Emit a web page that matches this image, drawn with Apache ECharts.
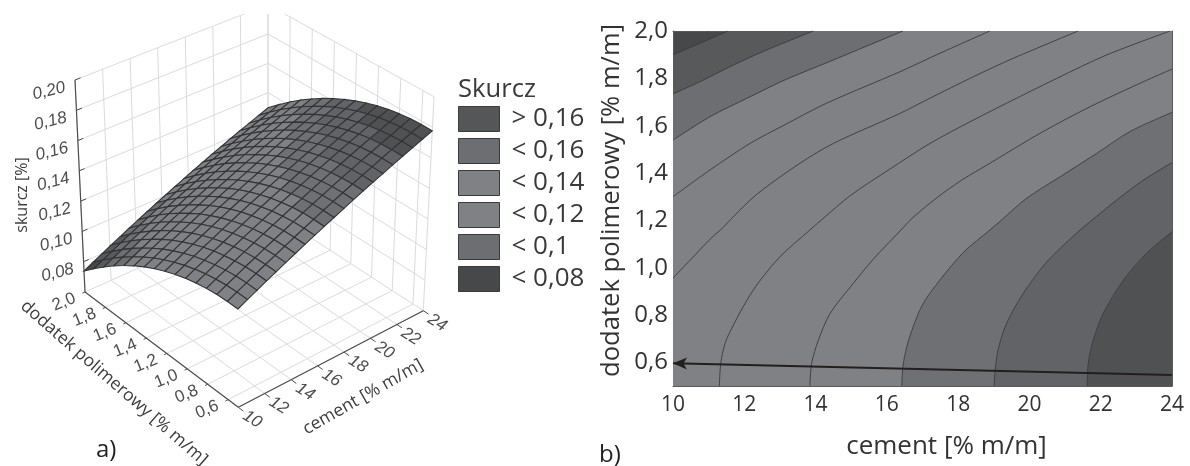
<!DOCTYPE html>
<html>
<head>
<meta charset="utf-8">
<style>html,body{margin:0;padding:0;background:#fff}#c{width:1190px;height:466px}</style>
<script src="https://cdn.jsdelivr.net/npm/echarts@6/dist/echarts.min.js"></script>
</head>
<body>
<div id="c"></div>
<script>
// ---------- tick labels / categories ----------
const cementTicks = [10, 12, 14, 16, 18, 20, 22, 24];
const polymerTicks = [0.6, 0.8, 1.0, 1.2, 1.4, 1.6, 1.8, 2.0];
const skurczTicks = [0.08, 0.10, 0.12, 0.14, 0.16, 0.18, 0.20];
const legendNames = ['> 0,16', '< 0,16', '< 0,14', '< 0,12', '< 0,1', '< 0,08'];
const legendColors = ['#555658', '#6d6e71', '#808184', '#808184', '#6d6e71', '#47484a'];
const cementMinorTicks = [11, 12, 13, 14, 15, 16, 17, 18, 19, 20, 21, 22, 23];
const polymerMinorTicks = [0.6, 0.7, 0.8, 0.9, 1.0, 1.1, 1.2, 1.3, 1.4, 1.5, 1.6, 1.7, 1.8, 1.9];

// ---------- contour plot (b): iso-lines, [cement, polymer] ----------
const contour008 = [[10,1.90],[10.76,1.948],[11.54,2]];
const contour009 = [[10,1.734],[10.76,1.786],[11.69,1.856],[12.63,1.92],[13.94,2]];
const contour010 = [[10,1.539],[11.04,1.638],[12.16,1.722],[13.09,1.79],[14.49,1.877],[16.45,2]];
const contour011 = [[10,1.30],[11.04,1.413],[12.16,1.525],[13.09,1.60],[14.31,1.695],[16.37,1.828],[17.49,1.906],[18.89,2]];
const contour012 = [[10,0.956],[10.62,1.054],[11.04,1.12],[11.37,1.165],[11.69,1.215],[12.35,1.31],[13.56,1.441],[14.5,1.525],[16.37,1.652],[17.21,1.716],[18.43,1.807],[19.55,1.885],[21.37,2]];
const contour013 = [[11.30,0.5],[11.34,0.596],[11.46,0.68],[11.65,0.744],[11.97,0.835],[12.35,0.927],[13.0,1.046],[13.84,1.159],[14.16,1.201],[14.97,1.304],[16.09,1.417],[17.21,1.525],[18.43,1.624],[19.36,1.695],[20.77,1.80],[22.17,1.899],[23.95,2]];
const contour014 = [[13.84,0.5],[13.89,0.596],[14.08,0.694],[14.41,0.807],[15.06,0.934],[15.62,1.036],[16.37,1.155],[16.74,1.213],[17.40,1.295],[18.10,1.37],[18.89,1.441],[20.30,1.568],[21.70,1.68],[23.10,1.779],[24,1.839]];
const contour015 = [[16.42,0.5],[16.45,0.582],[16.56,0.666],[16.74,0.751],[17.02,0.849],[17.49,0.948],[18.15,1.065],[18.89,1.159],[19.17,1.195],[19.92,1.293],[20.86,1.384],[21.89,1.483],[22.82,1.575],[24,1.656]];
const contour016 = [[19.01,0.5],[19.04,0.568],[19.13,0.659],[19.36,0.765],[19.83,0.892],[20.49,1.025],[21.42,1.159],[21.70,1.194],[22.45,1.286],[23.20,1.37],[24,1.444]];
const contour017 = [[21.62,0.5],[21.65,0.596],[21.79,0.694],[22.07,0.807],[22.64,0.948],[23.29,1.061],[24,1.152]];
const arrowLine = [[10,0.596],[24,0.547]];
// fill of each band, from the top-left corner to the bottom-right corner
const bandColors = ['#47484a','#58595b','#6d6e71','#808184','#808184','#808184','#808184','#808184','#6f7073','#626366','#505153'];

// ---------- surface plot (a): skurcz read per mesh node ----------
const meshCement = [10,10.7,11.4,12.1,12.8,13.5,14.2,14.9,15.6,16.3,17,17.7,18.4,19.1,19.8,20.5,21.2,21.9,22.6,23.3,24];
const meshPolymer = [0.5,0.6,0.7,0.8,0.9,1.0,1.1,1.2,1.3,1.4,1.5,1.6,1.7,1.8,1.9,2.0];
const meshSkurcz = [
[.1238,.1268,.1297,.1327,.1355,.1384,.1412,.1440,.1468,.1495,.1522,.1549,.1576,.1602,.1628,.1653,.1679,.1704,.1728,.1753,.1776],
[.1238,.1268,.1297,.1327,.1355,.1384,.1412,.1440,.1468,.1495,.1523,.1550,.1577,.1603,.1629,.1654,.1680,.1705,.1729,.1754,.1778],
[.1234,.1264,.1293,.1323,.1351,.1380,.1408,.1436,.1464,.1492,.1519,.1546,.1573,.1599,.1625,.1650,.1676,.1701,.1725,.1751,.1775],
[.1224,.1254,.1283,.1313,.1342,.1371,.1399,.1427,.1455,.1483,.1510,.1537,.1564,.1590,.1616,.1642,.1668,.1693,.1717,.1742,.1766],
[.1210,.1240,.1269,.1299,.1328,.1357,.1385,.1413,.1442,.1469,.1496,.1523,.1551,.1577,.1603,.1629,.1655,.1680,.1705,.1730,.1754],
[.1191,.1221,.1250,.1281,.1309,.1338,.1366,.1395,.1423,.1451,.1478,.1505,.1532,.1559,.1585,.1610,.1637,.1662,.1686,.1712,.1736],
[.1167,.1197,.1227,.1257,.1285,.1315,.1343,.1372,.1400,.1427,.1455,.1482,.1509,.1536,.1562,.1587,.1614,.1639,.1664,.1689,.1713],
[.1138,.1168,.1198,.1228,.1257,.1287,.1315,.1344,.1372,.1400,.1427,.1454,.1482,.1508,.1534,.1560,.1587,.1612,.1637,.1662,.1686],
[.1105,.1135,.1165,.1195,.1224,.1254,.1282,.1311,.1339,.1367,.1394,.1421,.1449,.1476,.1502,.1528,.1554,.1580,.1604,.1630,.1654],
[.1067,.1097,.1127,.1157,.1186,.1216,.1245,.1273,.1302,.1330,.1357,.1384,.1412,.1438,.1465,.1491,.1518,.1543,.1568,.1593,.1618],
[.1024,.1054,.1084,.1114,.1143,.1173,.1202,.1230,.1259,.1287,.1314,.1342,.1370,.1396,.1423,.1449,.1476,.1501,.1526,.1551,.1576],
[.0976,.1006,.1036,.1066,.1095,.1126,.1155,.1183,.1212,.1240,.1267,.1295,.1323,.1350,.1376,.1402,.1429,.1455,.1480,.1505,.1530],
[.0924,.0954,.0984,.1014,.1043,.1074,.1103,.1131,.1160,.1188,.1216,.1244,.1272,.1299,.1325,.1351,.1378,.1404,.1429,.1454,.1479],
[.0866,.0896,.0926,.0957,.0986,.1017,.1046,.1075,.1104,.1131,.1159,.1187,.1215,.1242,.1269,.1295,.1322,.1348,.1373,.1398,.1423],
[.0804,.0835,.0865,.0895,.0925,.0955,.0984,.1013,.1042,.1070,.1098,.1126,.1154,.1181,.1208,.1234,.1261,.1287,.1312,.1337,.1362],
[.0738,.0769,.0799,.0830,.0859,.0889,.0918,.0947,.0976,.1004,.1032,.1060,.1088,.1115,.1142,.1168,.1195,.1221,.1246,.1272,.1297]
];

// ---------- helpers ----------
const contours = [contour008, contour009, contour010, contour011, contour012, contour013, contour014, contour015, contour016, contour017];
const comma = v => Number(v).toFixed(v >= 0.05 && v < 0.3 ? 2 : (v < 3 ? 1 : 0)).replace('.', ',');
const SANS = '"Open Sans","Noto Sans",sans-serif';
const ARIAL = '"Liberation Sans",Arial,sans-serif';
const lm = echarts.number.linearMap;

// Perspective box of panel a): pixel position of the eight corners.
const box = {
  floor: { a: [85, 292], b: [238.3, 407.3], c: [423.3, 310.7], d: [268, 210] },
  top: { a: [75, 80], b: [237.5, 191.6], c: [434, 96.7], d: [268, 4.7] }
};
function project(cement, polymer, z) {
  const u = lm(cement, [10, 24], [0, 1]);
  const v = lm(polymer, [2, 0.5], [0, 1]);
  const w = lm(z, [0.06, 0.2], [0, 1]);
  const out = [0, 0];
  for (let k = 0; k < 2; k++) {
    const f = box.floor, t = box.top;
    const lo = (1 - u) * ((1 - v) * f.a[k] + v * f.b[k]) + u * ((1 - v) * f.d[k] + v * f.c[k]);
    const hi = (1 - u) * ((1 - v) * t.a[k] + v * t.b[k]) + u * ((1 - v) * t.d[k] + v * t.c[k]);
    out[k] = (1 - w) * lo + w * hi;
  }
  return out;
}
const GRIDC = '#dadbdc', AXISC = '#4d4e50', LABELC = '#4d4e50';
function seg(a, b, color, width) {
  return { type: 'line', silent: true, shape: { x1: a[0], y1: a[1], x2: b[0], y2: b[1] }, style: { stroke: color, lineWidth: width, fill: null } };
}
function txt(s, x, y, deg, size, family, italic, color) {
  return { type: 'text', silent: true, x, y, rotation: deg * Math.PI / 180,
    style: { text: s, fontSize: size, fontFamily: family, fontStyle: italic ? 'italic' : 'normal', fill: color, align: 'center', verticalAlign: 'middle' } };
}
function renderFrame() {
  const grid = [], axes = [];
  const zMin = 0.06, zMax = 0.2;
  const polyAll = [2, ...polymerTicks.slice().reverse().slice(1), 0.5];
  // walls and floor
  cementTicks.forEach(c => {
    grid.push(seg(project(c, 2, zMin), project(c, 2, zMax), GRIDC, 1));
    grid.push(seg(project(c, 2, zMin), project(c, 0.5, zMin), GRIDC, 1));
  });
  polyAll.forEach(p => {
    grid.push(seg(project(24, p, zMin), project(24, p, zMax), GRIDC, 1));
    grid.push(seg(project(10, p, zMin), project(24, p, zMin), GRIDC, 1));
  });
  skurczTicks.forEach(z => {
    grid.push(seg(project(10, 2, z), project(24, 2, z), GRIDC, 1));
    grid.push(seg(project(24, 2, z), project(24, 0.5, z), GRIDC, 1));
  });
  // axis lines and ticks
  axes.push(seg(project(10, 2, zMin), project(10, 2, zMax), AXISC, 1.2));
  axes.push(seg(project(10, 2, zMin), project(10, 0.5, zMin), AXISC, 1.2));
  axes.push(seg(project(10, 0.5, zMin), project(24, 0.5, zMin), AXISC, 1.2));
  skurczTicks.forEach(z => axes.push(seg(project(10, 2, z), project(10.4, 2, z), AXISC, 1)));
  polymerTicks.forEach(p => axes.push(seg(project(10, p, zMin), project(9.8, p, zMin), AXISC, 1)));
  cementTicks.forEach(c => axes.push(seg(project(c, 0.5, zMin), project(c, 0.45, zMin), AXISC, 1)));
  // tick labels
  skurczTicks.forEach(z => { const q = project(10, 2, z); axes.push(txt(comma(z), q[0] - 26, q[1] + 11, 14, 17, ARIAL, true, LABELC)); });
  polymerTicks.forEach(p => { const q = project(10, p, zMin); axes.push(txt(comma(p), q[0] - 21, q[1] + 10, 22, 17, ARIAL, false, LABELC)); });
  cementTicks.forEach(c => { const q = project(c, 0.5, zMin); axes.push(txt(comma(c), q[0] + 14, q[1] + 12, -32, 17, ARIAL, true, LABELC)); });
  // axis names
  axes.push(txt('skurcz [%]', 22, 195, 90, 16, SANS, false, '#3c3d3f'));
  axes.push(txt('dodatek polimerowy [% m/m]', 114, 383, -41, 17.5, SANS, false, '#3c3d3f'));
  axes.push(txt('cement [% m/m]', 363, 397, 29.6, 17.5, SANS, false, '#3c3d3f'));
  return { type: 'group', children: [
    { type: 'group', clipPath: { type: 'rect', shape: { x: 0, y: 14, width: 450, height: 452 } }, children: grid },
    { type: 'group', children: axes }
  ] };
}
// mesh cells from back corner (high cement, high polymer) to front corner
const meshCells = [];
for (let ci = meshCement.length - 2; ci >= 0; ci--) {
  for (let pi = meshPolymer.length - 2; pi >= 0; pi--) meshCells.push([ci, pi]);
}
function renderCell(params, api) {
  const ci = api.value(0), pi = api.value(1);
  const nodes = [[ci, pi], [ci + 1, pi], [ci + 1, pi + 1], [ci, pi + 1]];
  let sum = 0;
  const pts = nodes.map(n => { const z = meshSkurcz[n[1]][n[0]]; sum += z; return project(meshCement[n[0]], meshPolymer[n[1]], z); });
  const idx = Math.max(0, Math.min(10, Math.floor((sum / 4 - 0.07) / 0.01)));
  return { type: 'polygon', silent: true, shape: { points: pts }, style: { fill: bandColors[idx], stroke: '#333436', lineWidth: 1.1 } };
}
// bands of the contour plot: each polygon covers everything on the lower-right side of its iso-line
function renderBand(params, api) {
  const k = api.value(2), line = contours[k];
  const pts = line.slice();
  const first = line[0], last = line[line.length - 1];
  if (last[1] >= 2) pts.push([24, 2]);
  pts.push([24, 0.5]);
  if (first[0] <= 10) pts.push([10, 0.5]);
  return { type: 'polygon', silent: true, shape: { points: pts.map(q => api.coord(q)) }, style: { fill: bandColors[k + 1] } };
}

const axisFrame = { lineStyle: { color: '#58595b', width: 1 } };
const series = [
  { type: 'custom', coordinateSystem: 'none', silent: true, data: [[0]], renderItem: renderFrame, z: 1 },
  { type: 'custom', coordinateSystem: 'none', silent: true, data: meshCells, renderItem: renderCell, z: 2 },
  { type: 'custom', xAxisIndex: 0, yAxisIndex: 0, silent: true, clip: true, encode: { x: 0, y: 1 },
    data: contours.map((_, k) => [10, 0.5, k]), renderItem: renderBand, z: 2 }
];
contours.forEach(line => series.push({
  type: 'line', xAxisIndex: 0, yAxisIndex: 0, data: line, showSymbol: false, symbol: 'none', silent: true, z: 3, smooth: 0.3,
  lineStyle: { color: '#3a3b3d', width: 0.9 }
}));
series.push({
  type: 'line', xAxisIndex: 0, yAxisIndex: 0, data: [], silent: true, z: 4,
  markLine: { silent: true, symbol: ['arrow', 'none'], symbolSize: [9, 14], label: { show: false }, animation: false,
    lineStyle: { color: '#231f20', width: 2, type: 'solid' },
    data: [[{ coord: arrowLine[0] }, { coord: arrowLine[1] }]] }
});
legendNames.forEach((n, i) => series.push({
  type: 'custom', name: n, coordinateSystem: 'none', data: [], renderItem: () => null, itemStyle: { color: legendColors[i] }
}));

const option = {
  animation: false,
  backgroundColor: '#fff',
  textStyle: { fontFamily: SANS },
  grid: { left: 673, top: 31, width: 499, height: 355, show: true, backgroundColor: bandColors[0], borderWidth: 0, containLabel: false },
  title: [
    { text: 'Skurcz', left: 458, top: 77, padding: 0, textStyle: { fontFamily: SANS, fontWeight: 'normal', fontSize: 25.6, color: '#3a3a3c' } },
    { text: 'a)', left: 96, top: 438, padding: 0, textStyle: { fontFamily: SANS, fontWeight: 'normal', fontSize: 24, color: '#231f20' } },
    { text: 'b)', left: 599, top: 443, padding: 0, textStyle: { fontFamily: SANS, fontWeight: 'normal', fontSize: 24, color: '#231f20' } }
  ],
  legend: {
    orient: 'vertical', left: 458, top: 106, padding: 0, itemWidth: 41, itemHeight: 25, itemGap: 6, icon: 'rect',
    selectedMode: false, data: legendNames, itemStyle: { borderColor: '#3a3b3d', borderWidth: 1 },
    textStyle: { fontFamily: SANS, fontSize: 26, color: '#3a3a3c', padding: [0, 0, 0, 7] }
  },
  xAxis: [
    { type: 'value', min: 10, max: 24, interval: 2, position: 'bottom', splitLine: { show: false },
      axisLine: axisFrame, axisTick: { inside: true, length: 3, customValues: cementMinorTicks, lineStyle: { color: '#444' } },
      axisLabel: { customValues: cementTicks, fontSize: 21, color: '#333', margin: 9, fontFamily: SANS },
      name: 'cement [% m/m]', nameLocation: 'middle', nameGap: 48, nameTextStyle: { fontSize: 26, color: '#333', fontFamily: SANS, padding: [0, 0, 0, 48] } },
    { type: 'value', min: 10, max: 24, interval: 2, position: 'top', splitLine: { show: false },
      axisLine: axisFrame, axisTick: { inside: true, length: 3, customValues: cementMinorTicks, lineStyle: { color: '#444' } }, axisLabel: { show: false } }
  ],
  yAxis: [
    { type: 'value', min: 0.5, max: 2, position: 'left', splitLine: { show: false },
      axisLine: axisFrame, axisTick: { inside: true, length: 3, customValues: polymerMinorTicks, lineStyle: { color: '#444' } },
      axisLabel: { customValues: polymerTicks, formatter: v => comma(v), fontSize: 24, color: '#333', margin: 5, fontFamily: SANS },
      name: 'dodatek polimerowy [% m/m]', nameLocation: 'middle', nameGap: 48, nameTextStyle: { fontSize: 25.6, color: '#333', fontFamily: SANS, padding: [0, 0, 0, 16] } },
    { type: 'value', min: 0.5, max: 2, position: 'right', splitLine: { show: false },
      axisLine: axisFrame, axisTick: { inside: true, length: 3, customValues: polymerMinorTicks, lineStyle: { color: '#444' } }, axisLabel: { show: false } }
  ],
  series
};
const chart = echarts.init(document.getElementById('c'), null, { renderer: 'canvas' });
chart.setOption(option);
</script>
</body>
</html>
